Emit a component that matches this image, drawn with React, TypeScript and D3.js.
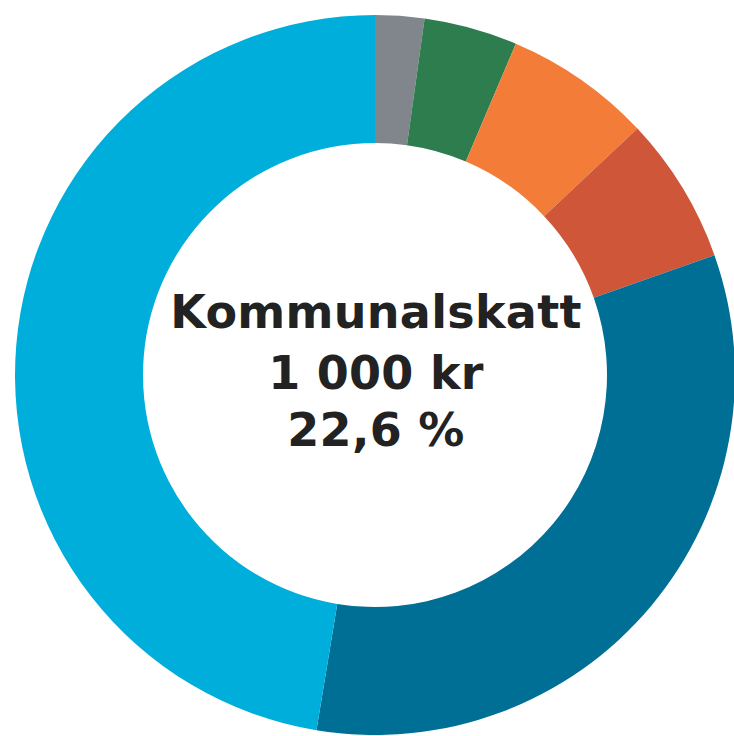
import React from "react";
import * as d3 from "d3";

const categories = ["Övrigt", "Kultur och fritid", "Infrastruktur", "Gemensam verksamhet", "Vård och omsorg", "Utbildning"];
const values = [22, 42, 66, 66, 330, 474];
const colors = ["#80868b", "#2e7d4e", "#f27c38", "#cf5638", "#006f96", "#00aedc"];
const centerLines = ["Kommunalskatt", "1 000 kr", "22,6 %"];

export default function App() {
  const width = 734;
  const height = 736;
  const cx = 375;
  const cy = 375;
  const outerR = 360;
  const innerR = 232;

  const pie = d3.pie<number>().sort(null).value((d) => d)(values);
  const arc = d3.arc<d3.PieArcDatum<number>>().innerRadius(innerR).outerRadius(outerR);

  const lineY = [328, 389, 446];

  return (
    <svg
      width={width}
      height={height}
      style={{ position: "absolute", left: 0, top: 0, background: "#ffffff" }}
    >
      <g transform={`translate(${cx},${cy})`}>
        {pie.map((p, i) => (
          <path key={categories[i]} d={arc(p) || ""} fill={colors[i]} />
        ))}
      </g>
      {centerLines.map((t, i) => (
        <text
          key={i}
          x={cx + 1}
          y={lineY[i]}
          textAnchor="middle"
          fontFamily="'DejaVu Sans', Verdana, sans-serif"
          fontWeight="bold"
          fontSize={46}
          letterSpacing={0.3}
          fill="#222222"
        >
          {t}
        </text>
      ))}
    </svg>
  );
}
